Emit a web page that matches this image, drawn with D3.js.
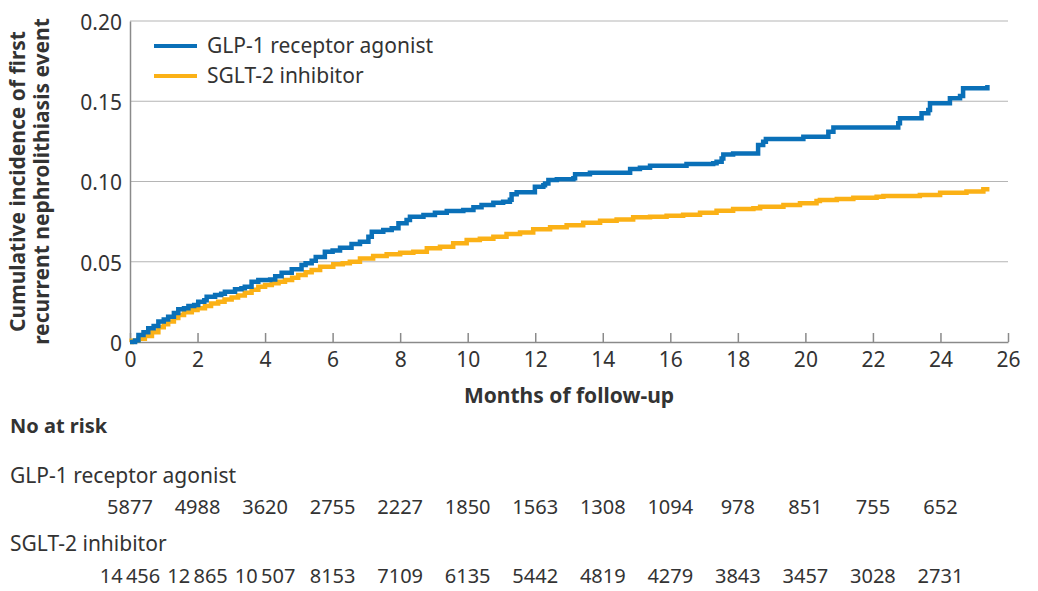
<!DOCTYPE html>
<html>
<head>
<meta charset="utf-8">
<script src="https://cdn.jsdelivr.net/npm/d3@7"></script>
<style>
  html, body { margin: 0; padding: 0; background: #fff; }
  svg { display: block; font-family: "Noto Sans", sans-serif; }
</style>
</head>
<body>
<svg id="chart" width="1038" height="591"></svg>
<script>
// ---- data ----
const seriesNames = ["GLP-1 receptor agonist", "SGLT-2 inhibitor"];
const seriesColors = ["#0a70b8", "#fbb116"];

const glpMonths = [0,0.15,0.25,0.4,0.54,0.7,0.84,1.0,1.13,1.3,1.43,1.6,1.73,1.9,2.02,2.2,2.27,2.52,2.7,2.81,3.11,3.3,3.4,3.6,3.8,4.15,4.3,4.49,4.79,5.08,5.2,5.38,5.5,5.77,6.0,6.22,6.56,6.81,7.06,7.16,7.5,7.75,7.95,8.19,8.29,8.69,9.03,9.38,9.87,10.17,10.41,10.76,11.05,11.25,11.3,11.45,11.99,12.24,12.29,12.39,12.64,13.13,13.18,13.62,14.81,15.1,15.4,16.48,17.27,17.37,17.52,17.57,17.86,18.6,18.75,18.83,19.94,20.68,20.83,22.75,22.8,23.44,23.64,23.69,24.28,24.58,24.67,25.39];
const glpIncidence = [0,0.001,0.0044,0.006,0.0085,0.010,0.0127,0.014,0.0158,0.018,0.0204,0.021,0.0224,0.023,0.0251,0.026,0.0282,0.0293,0.030,0.0313,0.0328,0.0335,0.0345,0.0376,0.0386,0.039,0.041,0.0432,0.0453,0.048,0.049,0.0507,0.053,0.0563,0.057,0.0588,0.0611,0.0625,0.0656,0.0687,0.0698,0.0708,0.074,0.076,0.0781,0.0791,0.0806,0.0816,0.0822,0.0839,0.0854,0.0868,0.0874,0.0887,0.092,0.0933,0.0968,0.0976,0.0988,0.1009,0.1014,0.102,0.1045,0.1055,0.1078,0.1086,0.1098,0.1109,0.1113,0.1123,0.1144,0.1169,0.1175,0.1227,0.1248,0.1265,0.1279,0.131,0.1337,0.1363,0.1394,0.1425,0.1445,0.1487,0.1518,0.1533,0.1581,0.1601];

const sgltMonths = [0,0.05,0.25,0.44,0.65,0.84,1.0,1.13,1.3,1.43,1.6,1.83,2.0,2.22,2.4,2.61,2.8,3.01,3.2,3.4,3.6,3.8,4.0,4.2,4.4,4.59,4.8,4.98,5.2,5.38,5.63,6.02,6.3,6.51,6.81,7.2,7.6,8.0,8.39,8.79,9.18,9.57,9.97,10.36,10.76,11.15,11.55,11.94,12.44,12.93,13.42,13.92,14.41,14.9,15.4,15.89,16.38,16.88,17.37,17.86,18.46,18.66,19.35,19.84,20.33,20.43,20.93,21.42,22.11,22.31,23.39,23.99,24.77,25.27,25.45];
const sgltIncidence = [0,0.0008,0.002,0.0037,0.006,0.0092,0.011,0.0127,0.015,0.0168,0.0185,0.02,0.021,0.0224,0.024,0.0251,0.0265,0.0278,0.029,0.0307,0.0325,0.0345,0.0355,0.0366,0.0376,0.0386,0.040,0.0417,0.0435,0.0449,0.0469,0.0484,0.049,0.05,0.0521,0.0536,0.0546,0.0556,0.0563,0.0584,0.0594,0.0615,0.0636,0.0644,0.0656,0.0673,0.0683,0.0702,0.0715,0.0727,0.0743,0.0756,0.0764,0.0777,0.0781,0.0787,0.0793,0.0806,0.0818,0.0829,0.0833,0.0843,0.0854,0.0864,0.0879,0.0885,0.0891,0.0899,0.0905,0.091,0.0916,0.093,0.0937,0.0951,0.0951];

const xTicks = [0,2,4,6,8,10,12,14,16,18,20,22,24,26];
const yTicks = [0,0.05,0.10,0.15,0.20];
const yTickLabels = ["0","0.05","0.10","0.15","0.20"];

const riskMonths = [0,2,4,6,8,10,12,14,16,18,20,22,24];
const glpAtRisk = [5877,4988,3620,2755,2227,1850,1563,1308,1094,978,851,755,652];
const sgltAtRisk = [14456,12865,10507,8153,7109,6135,5442,4819,4279,3843,3457,3028,2731];

const xTitle = "Months of follow-up";
const yTitleLines = ["Cumulative incidence of first", "recurrent nephrolithiasis event"];
const riskTitle = "No at risk";

// ---- drawing ----
const svg = d3.select("#chart");
const textColor = "#333333";
const gridColor = "#b5b5b5";
const axisColor = "#8a8a8a";

const x = d3.scaleLinear().domain([0, 26]).range([130, 1008]);
const y = d3.scaleLinear().domain([0, 0.20]).range([342, 21]);

// gridlines
svg.append("g").selectAll("line")
  .data(yTicks.filter(d => d > 0))
  .join("line")
  .attr("x1", x(0)).attr("x2", x(26))
  .attr("y1", d => y(d)).attr("y2", d => y(d))
  .attr("stroke", gridColor).attr("stroke-width", 1.2);

// y axis
const yAxis = svg.append("g")
  .attr("transform", `translate(${x(0)},0)`)
  .call(d3.axisLeft(y).tickValues(yTicks)
    .tickFormat((d, i) => yTickLabels[i]).tickSize(0).tickPadding(8));
yAxis.select(".domain").attr("stroke", axisColor).attr("stroke-width", 1.5);
yAxis.selectAll("text").attr("font-size", 21).attr("fill", textColor)
  .attr("font-family", "Noto Sans").attr("dy", "0.4em");

// x axis
const xAxis = svg.append("g")
  .attr("transform", `translate(0,${y(0)})`)
  .call(d3.axisBottom(x).tickValues(xTicks).tickSizeInner(-9).tickSizeOuter(0).tickPadding(10));
xAxis.select(".domain").attr("stroke", axisColor).attr("stroke-width", 1.5);
xAxis.selectAll(".tick line").attr("stroke", axisColor).attr("stroke-width", 1.5);
xAxis.selectAll("text").attr("font-size", 21).attr("fill", textColor)
  .attr("font-family", "Noto Sans");

// curves
const lineGen = d3.line()
  .x(d => x(d[0])).y(d => y(d[1]))
  .curve(d3.curveStepAfter);

const series = [
  d3.zip(sgltMonths, sgltIncidence),
  d3.zip(glpMonths, glpIncidence)
];
const seriesCol = [seriesColors[1], seriesColors[0]];
svg.append("g").selectAll("path")
  .data(series)
  .join("path")
  .attr("d", lineGen)
  .attr("fill", "none")
  .attr("stroke", (d, i) => seriesCol[i])
  .attr("stroke-width", 4.5)
  .attr("stroke-linejoin", "miter")
  .attr("stroke-linecap", "butt");

// legend
const legend = svg.append("g");
seriesNames.forEach((name, i) => {
  const ly = 46 + i * 30;
  legend.append("line")
    .attr("x1", 154).attr("x2", 197).attr("y1", ly).attr("y2", ly)
    .attr("stroke", seriesColors[i]).attr("stroke-width", 4);
  legend.append("text")
    .attr("x", 207).attr("y", ly + 7)
    .attr("font-size", 21).attr("fill", textColor)
    .text(name);
});

// x title
svg.append("text")
  .attr("x", (x(0) + x(26)) / 2).attr("y", 403)
  .attr("text-anchor", "middle")
  .attr("font-size", 21).attr("font-weight", "bold").attr("fill", textColor)
  .text(xTitle);

// y title
const yT = svg.append("text")
  .attr("transform", `translate(0,${(y(0) + y(0.2)) / 2}) rotate(-90)`)
  .attr("text-anchor", "middle")
  .attr("font-size", 21).attr("font-weight", "bold").attr("fill", textColor);
yTitleLines.forEach((t, i) => {
  yT.append("tspan").attr("x", 0).attr("y", 25 + i * 24).text(t);
});

// at-risk table
const fmt = n => n >= 10000 ? d3.format(",")(n).replace(/,/g, "\u2009") : String(n);
svg.append("text").attr("x", 10).attr("y", 433)
  .attr("font-size", 20).attr("font-weight", "bold").attr("fill", textColor)
  .text(riskTitle);

const rows = [
  { name: seriesNames[0], vals: glpAtRisk, yName: 483, yVals: 514 },
  { name: seriesNames[1], vals: sgltAtRisk, yName: 551, yVals: 583 }
];
rows.forEach(r => {
  svg.append("text").attr("x", 10).attr("y", r.yName)
    .attr("font-size", 21).attr("fill", textColor).text(r.name);
  svg.append("g").selectAll("text")
    .data(r.vals)
    .join("text")
    .attr("x", (d, i) => x(riskMonths[i]))
    .attr("y", r.yVals)
    .attr("text-anchor", "middle")
    .attr("font-size", 20).attr("fill", textColor)
    .text(d => fmt(d));
});
</script>
</body>
</html>
